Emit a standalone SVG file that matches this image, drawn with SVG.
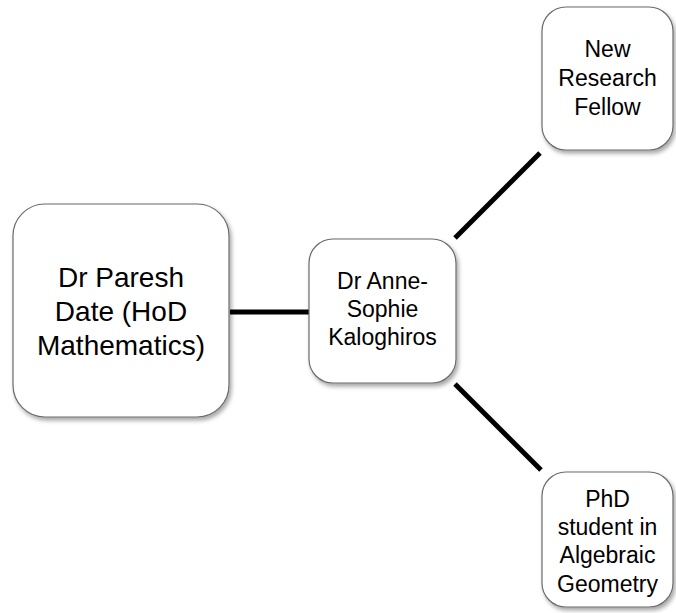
<svg xmlns="http://www.w3.org/2000/svg" width="676" height="613" viewBox="0 0 676 613">
<defs>
<filter id="sh" x="-20%" y="-20%" width="140%" height="140%">
<feDropShadow dx="2" dy="3" stdDeviation="2" flood-color="#000" flood-opacity="0.35"/>
</filter>
</defs>
<style>
.box{fill:#fff;stroke:#6b6b6b;stroke-width:1.2;filter:url(#sh)}
.t{font-family:"Liberation Sans",Arial,sans-serif;fill:#000;text-anchor:middle}
.c{stroke:#000;stroke-width:5;fill:none}
</style>
<rect width="676" height="613" fill="#fff"/>
<g id="connectors">
<line class="c" x1="230" y1="312" x2="309" y2="312"/>
<line class="c" x1="455" y1="238" x2="540" y2="153"/>
<line class="c" x1="455" y1="384" x2="541" y2="470"/>
</g>
<g id="node-hod">
<rect class="box" x="13" y="204" width="216" height="213" rx="32"/>
<text class="t" font-size="28"><tspan x="121" y="287">Dr Paresh</tspan><tspan x="121" y="321">Date (HoD</tspan><tspan x="121" y="355">Mathematics)</tspan></text>
</g>
<g id="node-anne">
<rect class="box" x="309" y="239" width="147" height="144" rx="24"/>
<text class="t" font-size="23"><tspan x="382.5" y="289">Dr Anne-</tspan><tspan x="382.5" y="317">Sophie</tspan><tspan x="382.5" y="345">Kaloghiros</tspan></text>
</g>
<g id="node-fellow">
<rect class="box" x="542" y="7" width="131" height="143" rx="24"/>
<text class="t" font-size="23"><tspan x="607.5" y="57">New</tspan><tspan x="607.5" y="86">Research</tspan><tspan x="607.5" y="115">Fellow</tspan></text>
</g>
<g id="node-phd">
<rect class="box" x="542" y="472" width="131" height="135" rx="24"/>
<text class="t" font-size="23"><tspan x="607.5" y="507">PhD</tspan><tspan x="607.5" y="535">student in</tspan><tspan x="607.5" y="563">Algebraic</tspan><tspan x="607.5" y="592">Geometry</tspan></text>
</g>
</svg>
